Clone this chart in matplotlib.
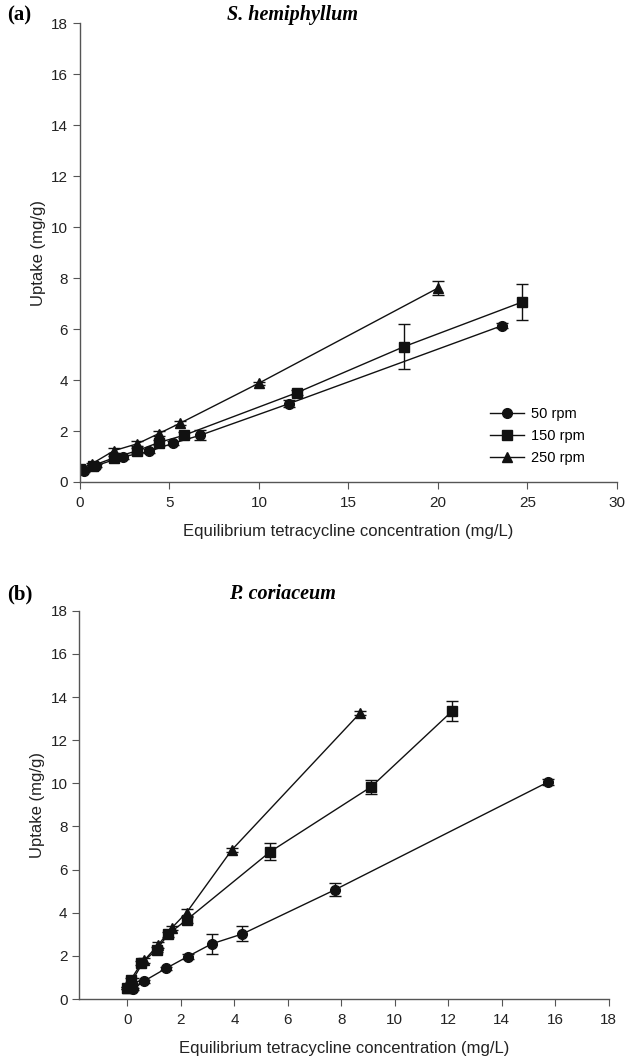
import numpy as np
import matplotlib
matplotlib.use("Agg")
import matplotlib.pyplot as plt

plt.rcParams['font.family'] = ['Liberation Sans', 'DejaVu Sans']

# (a) S. hemiphyllum
a50_x = [0.2, 0.9, 2.4, 3.85, 5.2, 6.7, 11.7, 23.6]
a50_y = [0.45, 0.64, 0.99, 1.2, 1.52, 1.83, 3.08, 6.14]
a50_e = [0.05, 0.05, 0.08, 0.08, 0.08, 0.2, 0.12, 0.1]
a150_x = [0.0, 0.7, 1.9, 3.2, 4.4, 5.8, 12.1, 18.1, 24.7]
a150_y = [0.5, 0.64, 0.95, 1.23, 1.55, 1.83, 3.5, 5.31, 7.06]
a150_e = [0.05, 0.05, 0.08, 0.1, 0.1, 0.12, 0.1, 0.89, 0.7]
a250_x = [0.0, 0.65, 1.9, 3.2, 4.4, 5.6, 10.0, 20.0]
a250_y = [0.5, 0.71, 1.23, 1.5, 1.9, 2.31, 3.88, 7.61]
a250_e = [0.05, 0.05, 0.1, 0.1, 0.1, 0.08, 0.06, 0.26]

# (b) P. coriaceum
b50_x = [0.2, 0.6, 1.45, 2.25, 3.15, 4.3, 7.75, 15.75]
b50_y = [0.45, 0.82, 1.43, 1.97, 2.56, 3.02, 5.06, 10.07]
b50_e = [0.05, 0.06, 0.08, 0.1, 0.48, 0.35, 0.3, 0.15]
b150_x = [0.0, 0.12, 0.52, 1.09, 1.52, 2.21, 5.34, 9.12, 12.15]
b150_y = [0.5, 0.89, 1.67, 2.28, 3.01, 3.67, 6.83, 9.84, 13.35]
b150_e = [0.05, 0.08, 0.1, 0.12, 0.12, 0.15, 0.39, 0.32, 0.45]
b250_x = [0.0, 0.2, 0.62, 1.15, 1.65, 2.21, 3.9, 8.71]
b250_y = [0.5, 0.9, 1.79, 2.51, 3.29, 4.01, 6.91, 13.27]
b250_e = [0.05, 0.08, 0.1, 0.12, 0.1, 0.15, 0.08, 0.08]

labels = ['50 rpm', '150 rpm', '250 rpm']
markers = ['o', 's', '^']

fig = plt.figure(figsize=(6.3, 10.64), dpi=100)
ax1 = fig.add_axes([0.127, 0.547, 0.852, 0.431])
ax2 = fig.add_axes([0.126, 0.061, 0.840, 0.365])


def draw(ax, series):
    handles = []
    for (x, y, e), lab, m in zip(series, labels, markers):
        c = ax.errorbar(x, y, yerr=e, color='#111111', lw=1.0, marker=m,
                        ms=7 if m != 's' else 6.5, capsize=4, elinewidth=1.0,
                        capthick=1.0, label=lab)
        handles.append(c[0])
    for s in ['top', 'right']:
        ax.spines[s].set_visible(False)
    for s in ['left', 'bottom']:
        ax.spines[s].set_color('#555555')
        ax.spines[s].set_linewidth(1.0)
    ax.tick_params(direction='out', length=5, color='#555555',
                   labelsize=11, labelcolor='#222222')
    ax.tick_params(axis='x', pad=5)
    ax.set_ylim(0, 18)
    ax.set_yticks(np.arange(0, 19, 2))
    ax.set_ylabel('Uptake (mg/g)', fontsize=12, color='#222222', labelpad=4)
    ax.set_xlabel('Equilibrium tetracycline concentration (mg/L)', fontsize=12,
                  color='#222222', labelpad=10)
    return handles


h = draw(ax1, [(a50_x, a50_y, a50_e), (a150_x, a150_y, a150_e), (a250_x, a250_y, a250_e)])
ax1.set_xlim(0, 30)
ax1.set_xticks(np.arange(0, 31, 5))
ax1.legend(h, labels, loc='center left', bbox_to_anchor=(0.74, 0.1), frameon=False,
           fontsize=10.5, handlelength=2.3, labelspacing=0.55, handletextpad=0.5)

draw(ax2, [(b50_x, b50_y, b50_e), (b150_x, b150_y, b150_e), (b250_x, b250_y, b250_e)])
ax2.set_xlim(-1.8, 18)
ax2.set_xticks(np.arange(0, 19, 2))

serif = ['Liberation Serif', 'DejaVu Serif']
fig.text(0.012, 0.995, '(a)', fontsize=15, fontweight='bold', family=serif, va='top')
fig.text(0.464, 0.995, 'S. hemiphyllum', fontsize=14.5, fontweight='bold',
         style='italic', family=serif, va='top', ha='center')
fig.text(0.012, 0.451, '(b)', fontsize=15, fontweight='bold', family=serif, va='top')
fig.text(0.449, 0.451, 'P. coriaceum', fontsize=14.5, fontweight='bold',
         style='italic', family=serif, va='top', ha='center')

fig.savefig('out.png', dpi=100)
